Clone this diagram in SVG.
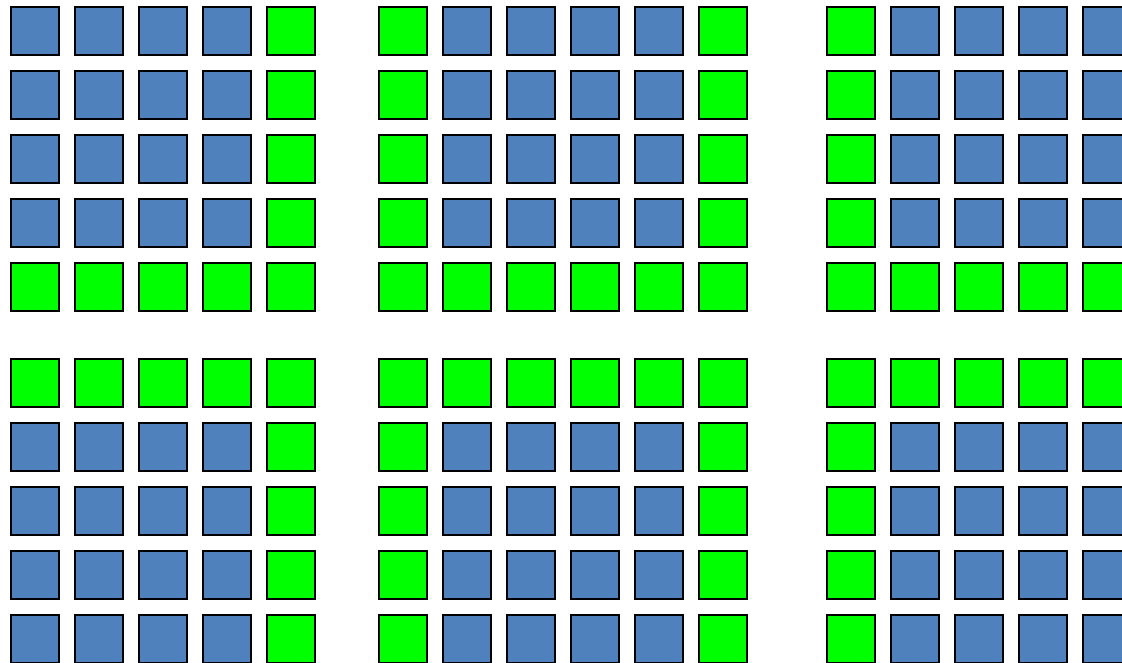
<svg xmlns="http://www.w3.org/2000/svg" width="1122" height="663" viewBox="0 0 1122 663">
<style>
rect.b{fill:#4F81BD;stroke:#000;stroke-width:2}
rect.g{fill:#00FF00;stroke:#000;stroke-width:2}
</style>
<rect x="0" y="0" width="1122" height="663" fill="#fff"/>
<g id="blockA-top">
<rect class="b" x="11" y="7" width="48" height="48"/><rect class="b" x="75" y="7" width="48" height="48"/><rect class="b" x="139" y="7" width="48" height="48"/><rect class="b" x="203" y="7" width="48" height="48"/><rect class="g" x="267" y="7" width="48" height="48"/>
<rect class="b" x="11" y="71" width="48" height="48"/><rect class="b" x="75" y="71" width="48" height="48"/><rect class="b" x="139" y="71" width="48" height="48"/><rect class="b" x="203" y="71" width="48" height="48"/><rect class="g" x="267" y="71" width="48" height="48"/>
<rect class="b" x="11" y="135" width="48" height="48"/><rect class="b" x="75" y="135" width="48" height="48"/><rect class="b" x="139" y="135" width="48" height="48"/><rect class="b" x="203" y="135" width="48" height="48"/><rect class="g" x="267" y="135" width="48" height="48"/>
<rect class="b" x="11" y="199" width="48" height="48"/><rect class="b" x="75" y="199" width="48" height="48"/><rect class="b" x="139" y="199" width="48" height="48"/><rect class="b" x="203" y="199" width="48" height="48"/><rect class="g" x="267" y="199" width="48" height="48"/>
<rect class="g" x="11" y="263" width="48" height="48"/><rect class="g" x="75" y="263" width="48" height="48"/><rect class="g" x="139" y="263" width="48" height="48"/><rect class="g" x="203" y="263" width="48" height="48"/><rect class="g" x="267" y="263" width="48" height="48"/>
</g>
<g id="blockB-top">
<rect class="g" x="379" y="7" width="48" height="48"/><rect class="b" x="443" y="7" width="48" height="48"/><rect class="b" x="507" y="7" width="48" height="48"/><rect class="b" x="571" y="7" width="48" height="48"/><rect class="b" x="635" y="7" width="48" height="48"/><rect class="g" x="699" y="7" width="48" height="48"/>
<rect class="g" x="379" y="71" width="48" height="48"/><rect class="b" x="443" y="71" width="48" height="48"/><rect class="b" x="507" y="71" width="48" height="48"/><rect class="b" x="571" y="71" width="48" height="48"/><rect class="b" x="635" y="71" width="48" height="48"/><rect class="g" x="699" y="71" width="48" height="48"/>
<rect class="g" x="379" y="135" width="48" height="48"/><rect class="b" x="443" y="135" width="48" height="48"/><rect class="b" x="507" y="135" width="48" height="48"/><rect class="b" x="571" y="135" width="48" height="48"/><rect class="b" x="635" y="135" width="48" height="48"/><rect class="g" x="699" y="135" width="48" height="48"/>
<rect class="g" x="379" y="199" width="48" height="48"/><rect class="b" x="443" y="199" width="48" height="48"/><rect class="b" x="507" y="199" width="48" height="48"/><rect class="b" x="571" y="199" width="48" height="48"/><rect class="b" x="635" y="199" width="48" height="48"/><rect class="g" x="699" y="199" width="48" height="48"/>
<rect class="g" x="379" y="263" width="48" height="48"/><rect class="g" x="443" y="263" width="48" height="48"/><rect class="g" x="507" y="263" width="48" height="48"/><rect class="g" x="571" y="263" width="48" height="48"/><rect class="g" x="635" y="263" width="48" height="48"/><rect class="g" x="699" y="263" width="48" height="48"/>
</g>
<g id="blockC-top">
<rect class="g" x="827" y="7" width="48" height="48"/><rect class="b" x="891" y="7" width="48" height="48"/><rect class="b" x="955" y="7" width="48" height="48"/><rect class="b" x="1019" y="7" width="48" height="48"/><rect class="b" x="1083" y="7" width="48" height="48"/>
<rect class="g" x="827" y="71" width="48" height="48"/><rect class="b" x="891" y="71" width="48" height="48"/><rect class="b" x="955" y="71" width="48" height="48"/><rect class="b" x="1019" y="71" width="48" height="48"/><rect class="b" x="1083" y="71" width="48" height="48"/>
<rect class="g" x="827" y="135" width="48" height="48"/><rect class="b" x="891" y="135" width="48" height="48"/><rect class="b" x="955" y="135" width="48" height="48"/><rect class="b" x="1019" y="135" width="48" height="48"/><rect class="b" x="1083" y="135" width="48" height="48"/>
<rect class="g" x="827" y="199" width="48" height="48"/><rect class="b" x="891" y="199" width="48" height="48"/><rect class="b" x="955" y="199" width="48" height="48"/><rect class="b" x="1019" y="199" width="48" height="48"/><rect class="b" x="1083" y="199" width="48" height="48"/>
<rect class="g" x="827" y="263" width="48" height="48"/><rect class="g" x="891" y="263" width="48" height="48"/><rect class="g" x="955" y="263" width="48" height="48"/><rect class="g" x="1019" y="263" width="48" height="48"/><rect class="g" x="1083" y="263" width="48" height="48"/>
</g>
<g id="blockA-bottom">
<rect class="g" x="11" y="359" width="48" height="48"/><rect class="g" x="75" y="359" width="48" height="48"/><rect class="g" x="139" y="359" width="48" height="48"/><rect class="g" x="203" y="359" width="48" height="48"/><rect class="g" x="267" y="359" width="48" height="48"/>
<rect class="b" x="11" y="423" width="48" height="48"/><rect class="b" x="75" y="423" width="48" height="48"/><rect class="b" x="139" y="423" width="48" height="48"/><rect class="b" x="203" y="423" width="48" height="48"/><rect class="g" x="267" y="423" width="48" height="48"/>
<rect class="b" x="11" y="487" width="48" height="48"/><rect class="b" x="75" y="487" width="48" height="48"/><rect class="b" x="139" y="487" width="48" height="48"/><rect class="b" x="203" y="487" width="48" height="48"/><rect class="g" x="267" y="487" width="48" height="48"/>
<rect class="b" x="11" y="551" width="48" height="48"/><rect class="b" x="75" y="551" width="48" height="48"/><rect class="b" x="139" y="551" width="48" height="48"/><rect class="b" x="203" y="551" width="48" height="48"/><rect class="g" x="267" y="551" width="48" height="48"/>
<rect class="b" x="11" y="615" width="48" height="48"/><rect class="b" x="75" y="615" width="48" height="48"/><rect class="b" x="139" y="615" width="48" height="48"/><rect class="b" x="203" y="615" width="48" height="48"/><rect class="g" x="267" y="615" width="48" height="48"/>
</g>
<g id="blockB-bottom">
<rect class="g" x="379" y="359" width="48" height="48"/><rect class="g" x="443" y="359" width="48" height="48"/><rect class="g" x="507" y="359" width="48" height="48"/><rect class="g" x="571" y="359" width="48" height="48"/><rect class="g" x="635" y="359" width="48" height="48"/><rect class="g" x="699" y="359" width="48" height="48"/>
<rect class="g" x="379" y="423" width="48" height="48"/><rect class="b" x="443" y="423" width="48" height="48"/><rect class="b" x="507" y="423" width="48" height="48"/><rect class="b" x="571" y="423" width="48" height="48"/><rect class="b" x="635" y="423" width="48" height="48"/><rect class="g" x="699" y="423" width="48" height="48"/>
<rect class="g" x="379" y="487" width="48" height="48"/><rect class="b" x="443" y="487" width="48" height="48"/><rect class="b" x="507" y="487" width="48" height="48"/><rect class="b" x="571" y="487" width="48" height="48"/><rect class="b" x="635" y="487" width="48" height="48"/><rect class="g" x="699" y="487" width="48" height="48"/>
<rect class="g" x="379" y="551" width="48" height="48"/><rect class="b" x="443" y="551" width="48" height="48"/><rect class="b" x="507" y="551" width="48" height="48"/><rect class="b" x="571" y="551" width="48" height="48"/><rect class="b" x="635" y="551" width="48" height="48"/><rect class="g" x="699" y="551" width="48" height="48"/>
<rect class="g" x="379" y="615" width="48" height="48"/><rect class="b" x="443" y="615" width="48" height="48"/><rect class="b" x="507" y="615" width="48" height="48"/><rect class="b" x="571" y="615" width="48" height="48"/><rect class="b" x="635" y="615" width="48" height="48"/><rect class="g" x="699" y="615" width="48" height="48"/>
</g>
<g id="blockC-bottom">
<rect class="g" x="827" y="359" width="48" height="48"/><rect class="g" x="891" y="359" width="48" height="48"/><rect class="g" x="955" y="359" width="48" height="48"/><rect class="g" x="1019" y="359" width="48" height="48"/><rect class="g" x="1083" y="359" width="48" height="48"/>
<rect class="g" x="827" y="423" width="48" height="48"/><rect class="b" x="891" y="423" width="48" height="48"/><rect class="b" x="955" y="423" width="48" height="48"/><rect class="b" x="1019" y="423" width="48" height="48"/><rect class="b" x="1083" y="423" width="48" height="48"/>
<rect class="g" x="827" y="487" width="48" height="48"/><rect class="b" x="891" y="487" width="48" height="48"/><rect class="b" x="955" y="487" width="48" height="48"/><rect class="b" x="1019" y="487" width="48" height="48"/><rect class="b" x="1083" y="487" width="48" height="48"/>
<rect class="g" x="827" y="551" width="48" height="48"/><rect class="b" x="891" y="551" width="48" height="48"/><rect class="b" x="955" y="551" width="48" height="48"/><rect class="b" x="1019" y="551" width="48" height="48"/><rect class="b" x="1083" y="551" width="48" height="48"/>
<rect class="g" x="827" y="615" width="48" height="48"/><rect class="b" x="891" y="615" width="48" height="48"/><rect class="b" x="955" y="615" width="48" height="48"/><rect class="b" x="1019" y="615" width="48" height="48"/><rect class="b" x="1083" y="615" width="48" height="48"/>
</g>
</svg>
